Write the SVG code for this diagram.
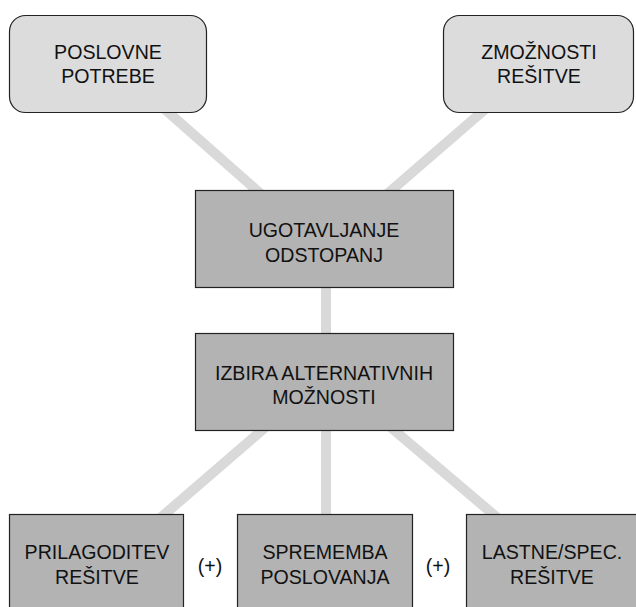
<svg xmlns="http://www.w3.org/2000/svg" width="636" height="607" viewBox="0 0 636 607">
  <style>
    .link { stroke: #d9d9d9; stroke-width: 10; fill: none; }
    .soft { fill: #dcdcdc; stroke: #222; stroke-width: 1.2; }
    .step { fill: #b3b3b3; stroke: #222; stroke-width: 1.2; }
    text { font-family: "Liberation Sans", Arial, Helvetica, sans-serif; font-size: 19.6px; fill: #111; text-anchor: middle; }
  </style>
  <rect width="636" height="607" fill="#ffffff"/>

  <g id="connectors">
    <line class="link" x1="160" y1="105" x2="262" y2="195"/>
    <line class="link" x1="490" y1="105" x2="386" y2="195"/>
    <line class="link" x1="326" y1="285" x2="326" y2="336"/>
    <line class="link" x1="268" y1="425" x2="158" y2="520"/>
    <line class="link" x1="326" y1="428" x2="326" y2="518"/>
    <line class="link" x1="388" y1="425" x2="500" y2="520"/>
  </g>

  <g id="poslovne-potrebe">
    <rect class="soft" x="9.5" y="15.5" width="197" height="97" rx="16"/>
    <text x="108" y="59">POSLOVNE</text>
    <text x="108" y="83">POTREBE</text>
  </g>

  <g id="zmoznosti-resitve">
    <rect class="soft" x="443.5" y="15.5" width="190" height="97" rx="16"/>
    <text x="539" y="59">ZMOŽNOSTI</text>
    <text x="539" y="83">REŠITVE</text>
  </g>

  <g id="ugotavljanje-odstopanj">
    <rect class="step" x="195.5" y="190.5" width="258" height="97"/>
    <text x="324" y="237">UGOTAVLJANJE</text>
    <text x="324" y="262">ODSTOPANJ</text>
  </g>

  <g id="izbira-alternativnih-moznosti">
    <rect class="step" x="195.5" y="333.5" width="258" height="97"/>
    <text x="324" y="380">IZBIRA ALTERNATIVNIH</text>
    <text x="324" y="404">MOŽNOSTI</text>
  </g>

  <g id="prilagoditev-resitve">
    <rect class="step" x="9.5" y="514.5" width="174" height="110"/>
    <text x="97" y="559">PRILAGODITEV</text>
    <text x="97" y="584">REŠITVE</text>
  </g>

  <g id="sprememba-poslovanja">
    <rect class="step" x="237.5" y="514.5" width="175" height="110"/>
    <text x="325" y="559">SPREMEMBA</text>
    <text x="325" y="584">POSLOVANJA</text>
  </g>

  <g id="lastne-spec-resitve">
    <rect class="step" x="466.5" y="514.5" width="180" height="110"/>
    <text x="552" y="559">LASTNE/SPEC.</text>
    <text x="552" y="584">REŠITVE</text>
  </g>

  <g id="plus-marks">
    <text x="210" y="573">(+)</text>
    <text x="438" y="573">(+)</text>
  </g>
</svg>
